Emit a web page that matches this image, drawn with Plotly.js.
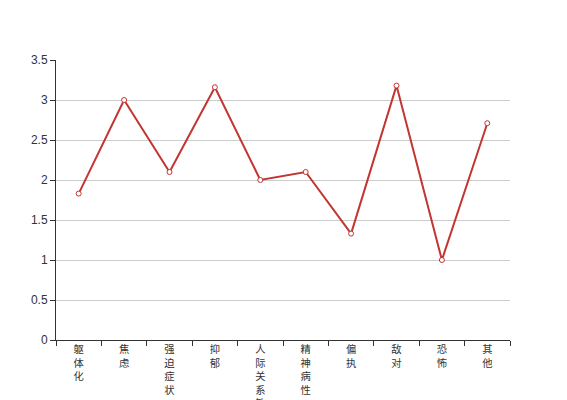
<!DOCTYPE html>
<html>
<head>
<meta charset="utf-8">
<script src="https://cdn.plot.ly/plotly-3.0.1.min.js"></script>
<style>html,body{margin:0;padding:0;background:#fff;}#chart{width:567px;height:400px;}</style>
</head>
<body>
<div id="chart"></div>
<script>
var categories = ["躯体化", "焦虑", "强迫症状", "抑郁", "人际关系敏感", "精神病性", "偏执", "敌对", "恐怖", "其他"];
var values = [1.83, 3.0, 2.1, 3.16, 2.0, 2.1, 1.33, 3.18, 1.0, 2.71];
var yTicks = [0, 0.5, 1, 1.5, 2, 2.5, 3, 3.5];
var yTickText = ["0", "0.5", "1", "1.5", "2", "2.5", "3", "3.5"];

var verticalLabels = categories.map(function (c) { return c.split("").join("<br>"); });

var trace = {
  type: "scatter",
  mode: "lines+markers",
  x: categories,
  y: values,
  line: { color: "#c23531", width: 2 },
  marker: { symbol: "circle", size: 5, color: "#ffffff", line: { color: "#c23531", width: 1 } },
  hoverinfo: "x+y"
};

var layout = {
  width: 567,
  height: 400,
  margin: { l: 56, r: 57, t: 60, b: 60 },
  paper_bgcolor: "#ffffff",
  plot_bgcolor: "#ffffff",
  showlegend: false,
  font: { family: "Helvetica, Arial, 'Noto Sans CJK SC', sans-serif", color: "#333", size: 12 },
  xaxis: {
    type: "category",
    range: [-0.5, 9.5],
    tickmode: "array",
    tickvals: categories,
    ticktext: verticalLabels,
    tickson: "boundaries",
    ticks: "outside",
    ticklen: 5,
    tickcolor: "#333",
    showgrid: false,
    showline: true,
    linecolor: "#333",
    linewidth: 1,
    zeroline: false,
    tickfont: { family: "'Noto Sans CJK SC', sans-serif", size: 10.3, color: "#333" },
    fixedrange: true
  },
  yaxis: {
    range: [0, 3.5],
    tickmode: "array",
    tickvals: yTicks,
    ticktext: yTickText,
    ticks: "outside",
    ticklen: 5,
    tickcolor: "#333",
    showline: true,
    linecolor: "#333",
    linewidth: 1,
    showgrid: true,
    gridcolor: "#cccccc",
    gridwidth: 1,
    zeroline: false,
    tickfont: { family: "Helvetica, Arial, sans-serif", size: 12, color: "#333" },
    fixedrange: true
  }
};

Plotly.newPlot("chart", [trace], layout, { displayModeBar: false, staticPlot: true });
</script>
</body>
</html>
